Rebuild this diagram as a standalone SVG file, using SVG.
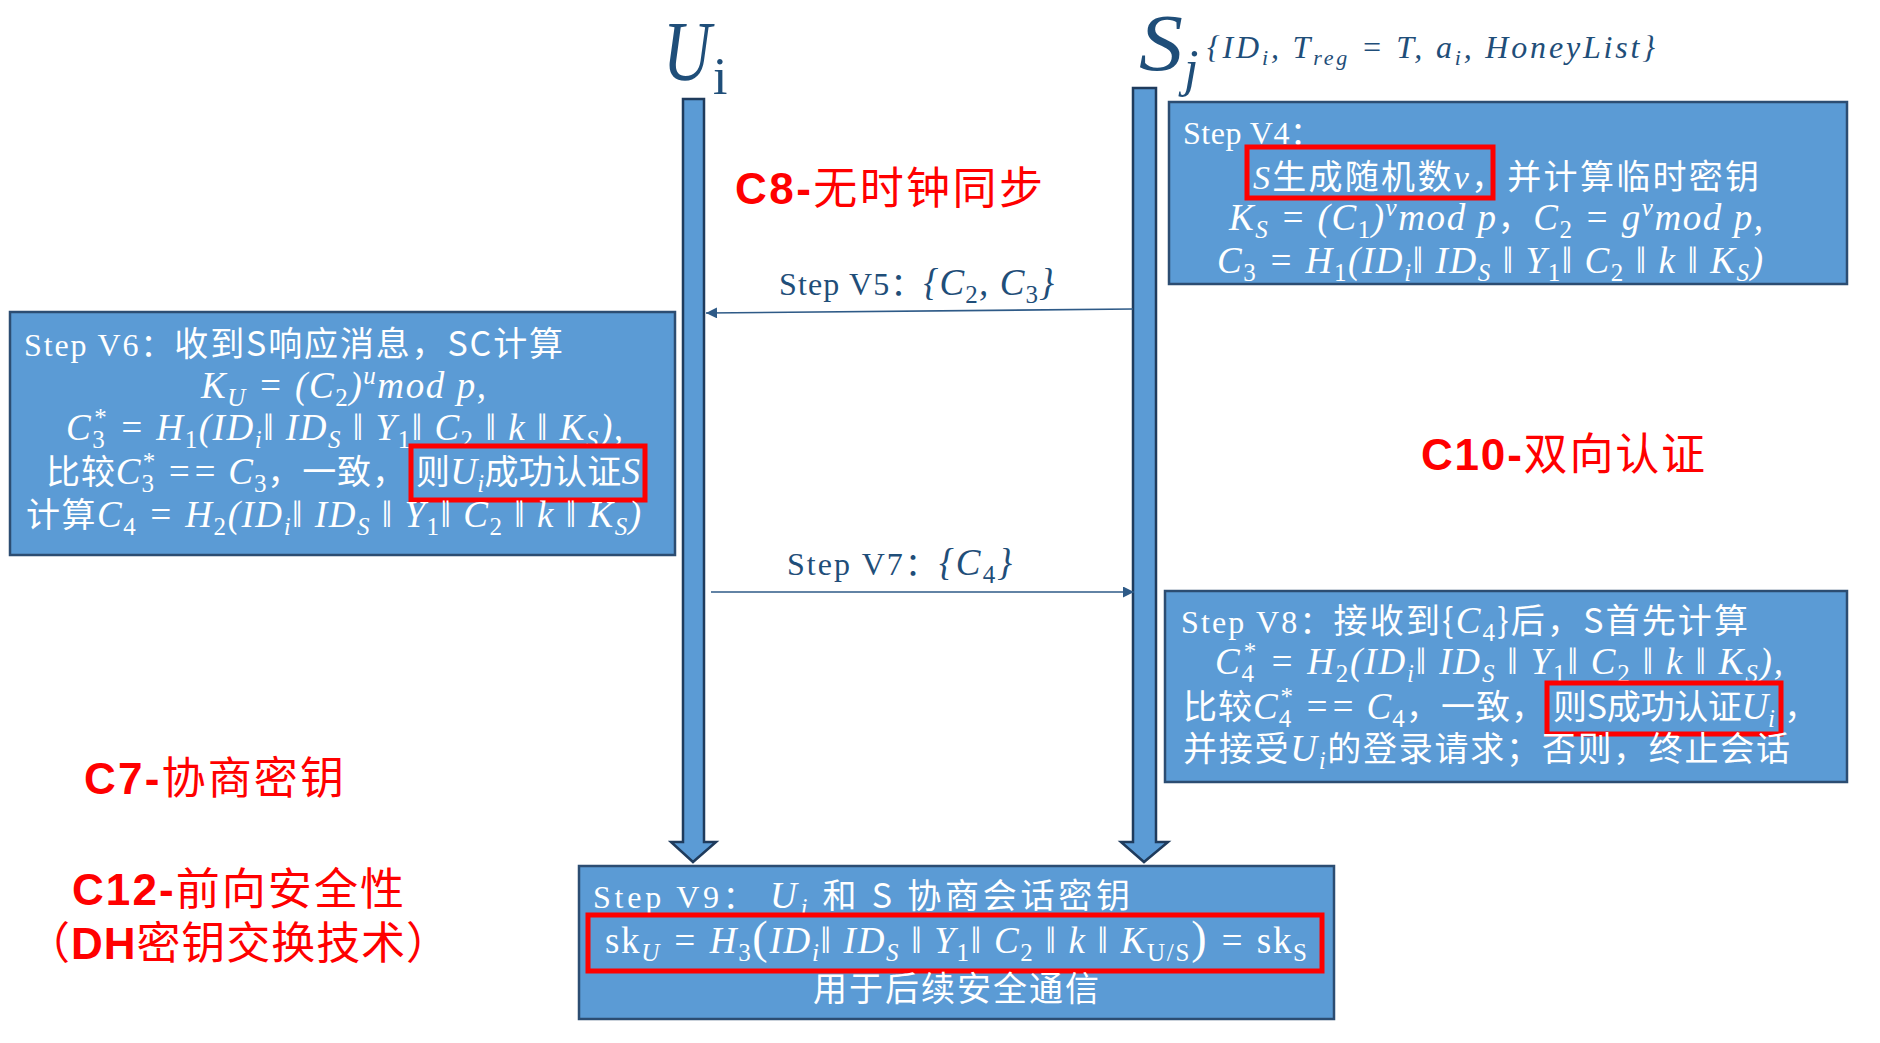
<svg xmlns="http://www.w3.org/2000/svg" width="1880" height="1043" viewBox="0 0 1880 1043">
<style>
.box{fill:#5B9BD5;stroke:#2C4D72;stroke-width:2.5}
.life{fill:#5B9BD5;stroke:#1F3B5C;stroke-width:2.5}
.hl{fill:none;stroke:#FF0000;stroke-width:5}
.msg{stroke:#2E5A87;stroke-width:1.6;fill:none}
.w{fill:#FFFFFF}
.cj{font-family:"Noto Sans CJK SC","Noto Sans",sans-serif;font-size:34px}
.mono{font-family:"Liberation Serif","Noto Sans CJK SC",serif;font-size:32px}
.mt{font-family:"Liberation Serif","DejaVu Serif","Noto Sans CJK SC",serif;font-style:italic;font-size:37px}
.i{font-family:"Liberation Serif","DejaVu Serif",serif;font-style:italic}
.n{font-style:normal}
.sb{font-size:25px;baseline-shift:-8px}
.sp{font-size:25px;baseline-shift:14px}
.red{fill:#FF0000;font-family:"Noto Sans CJK SC",sans-serif;font-size:44px}
.rb{font-family:"Liberation Sans",sans-serif;font-weight:bold}
.lbl{fill:#1F4E79;font-size:30px}
.hd{fill:#1F4E79;font-family:"Liberation Serif","DejaVu Serif",serif}
</style>
<defs>
<marker id="ah" viewBox="0 0 10 10" refX="10" refY="5" markerWidth="14" markerHeight="11" markerUnits="userSpaceOnUse" orient="auto"><path d="M0,0 L10,5 L0,10 z" fill="#2E5A87"/></marker>
</defs>

<g id="header-U">
<text class="hd" x="663" y="80" font-size="84" font-style="italic" textLength="48" lengthAdjust="spacingAndGlyphs">U</text>
<text class="hd" x="713" y="94" font-size="52">i</text>
</g>
<g id="header-S">
<text class="hd" x="1139" y="70" font-size="80" font-style="italic" textLength="44" lengthAdjust="spacingAndGlyphs">S</text>
<text class="hd" x="1184" y="86" font-size="52" font-style="italic">j</text>
<text class="hd" x="1207" y="58" font-size="32" font-style="italic" textLength="448">{ID<tspan font-size="22" baseline-shift="-7">i</tspan>, T<tspan font-size="22" baseline-shift="-7">reg</tspan> = T, a<tspan font-size="22" baseline-shift="-7">i</tspan>, HoneyList}</text>
</g>

<g id="lifeline-U">
<polygon class="life" points="683,99 704,99 704,842 716,842 693,862 671,842 683,842"/>
</g>
<g id="lifeline-S">
<polygon class="life" points="1133,88 1156,88 1156,842 1168,842 1144,862 1121,842 1133,842"/>
</g>

<g id="connectors">
<line class="msg" x1="1133" y1="309" x2="706" y2="313" marker-end="url(#ah)"/>
<line class="msg" x1="711" y1="592" x2="1134" y2="592" marker-end="url(#ah)"/>
<text class="cj lbl" x="779" y="295" textLength="275"><tspan class="mono">Step V5：</tspan><tspan class="mt" font-size="32">{C<tspan class="sb n" font-size="22">2</tspan>, C<tspan class="sb n" font-size="22">3</tspan>}</tspan></text>
<text class="cj lbl" x="787" y="575" textLength="225"><tspan class="mono">Step V7：</tspan><tspan class="mt" font-size="32">{C<tspan class="sb n" font-size="22">4</tspan>}</tspan></text>
</g>

<g id="step-v4">
<rect class="box" x="1169" y="102" width="678" height="182"/>
<text class="cj w" x="1183" y="144" textLength="139"><tspan class="mono">Step V4：</tspan></text>
<text class="cj w" x="1253" y="189" font-size="36" textLength="506"><tspan class="i">S</tspan>生成随机数<tspan class="i">v</tspan>，并计算临时密钥</text>
<rect class="hl" x="1247" y="147" width="246" height="51"/>
<text class="mt w" x="1229" y="230" textLength="534">K<tspan class="sb">S</tspan> = (C<tspan class="sb n">1</tspan>)<tspan class="sp">v</tspan>mod p<tspan class="cj n">，</tspan>C<tspan class="sb n">2</tspan> = g<tspan class="sp">v</tspan>mod p,</text>
<text class="mt w" x="1217" y="273" textLength="546">C<tspan class="sb n">3</tspan> = H<tspan class="sb n">1</tspan>(ID<tspan class="sb">i</tspan>‖ ID<tspan class="sb">S</tspan> ‖ Y<tspan class="sb n">1</tspan>‖ C<tspan class="sb n">2</tspan> ‖ k ‖ K<tspan class="sb">S</tspan>)</text>
</g>

<g id="step-v6">
<rect class="box" x="10" y="312" width="665" height="243"/>
<text class="cj w" x="24" y="356" textLength="539"><tspan class="mono">Step V6：</tspan>收到S响应消息，SC计算</text>
<text class="mt w" x="201" y="398" textLength="285">K<tspan class="sb">U</tspan> = (C<tspan class="sb n">2</tspan>)<tspan class="sp">u</tspan>mod p,</text>
<text class="mt w" x="66" y="440" textLength="557">C<tspan class="sb n">3</tspan><tspan class="sp n" dx="-12">*</tspan> = H<tspan class="sb n">1</tspan>(ID<tspan class="sb">i</tspan>‖ ID<tspan class="sb">S</tspan> ‖ Y<tspan class="sb n">1</tspan>‖ C<tspan class="sb n">2</tspan> ‖ k ‖ K<tspan class="sb">S</tspan>),</text>
<text class="cj w" x="46" y="484" textLength="360">比较<tspan class="mt">C<tspan class="sb n">3</tspan><tspan class="sp n" dx="-12">*</tspan> == C<tspan class="sb n">3</tspan></tspan>，一致，</text>
<text class="cj w" x="416" y="484" textLength="224">则<tspan class="mt">U<tspan class="sb">i</tspan></tspan>成功认证<tspan class="mt">S</tspan></text>
<rect class="hl" x="411" y="446" width="234" height="54"/>
<text class="cj w" x="26" y="527" textLength="615">计算<tspan class="mt">C<tspan class="sb n">4</tspan> = H<tspan class="sb n">2</tspan>(ID<tspan class="sb">i</tspan>‖ ID<tspan class="sb">S</tspan> ‖ Y<tspan class="sb n">1</tspan>‖ C<tspan class="sb n">2</tspan> ‖ k ‖ K<tspan class="sb">S</tspan>)</tspan></text>
</g>

<g id="step-v8">
<rect class="box" x="1165" y="591" width="682" height="191"/>
<text class="cj w" x="1181" y="633" textLength="567"><tspan class="mono">Step V8：</tspan>接收到{<tspan class="mt">C<tspan class="sb n">4</tspan></tspan>}后，S首先计算</text>
<text class="mt w" x="1215" y="674" textLength="568">C<tspan class="sb n">4</tspan><tspan class="sp n" dx="-12">*</tspan> = H<tspan class="sb n">2</tspan>(ID<tspan class="sb">i</tspan>‖ ID<tspan class="sb">S</tspan> ‖ Y<tspan class="sb n">1</tspan>‖ C<tspan class="sb n">2</tspan> ‖ k ‖ K<tspan class="sb">S</tspan>),</text>
<text class="cj w" x="1183" y="719" textLength="362">比较<tspan class="mt">C<tspan class="sb n">4</tspan><tspan class="sp n" dx="-12">*</tspan> == C<tspan class="sb n">4</tspan></tspan>，一致，</text>
<text class="cj w" x="1553" y="719" textLength="222">则S成功认证<tspan class="mt">U<tspan class="sb">i</tspan></tspan></text>
<text class="cj w" x="1784" y="719">，</text>
<rect class="hl" x="1547" y="683" width="234" height="51"/>
<text class="cj w" x="1183" y="761" textLength="607">并接受<tspan class="mt">U<tspan class="sb">i</tspan></tspan>的登录请求；否则，终止会话</text>
</g>

<g id="step-v9">
<rect class="box" x="579" y="866" width="755" height="153"/>
<text class="cj w" x="593" y="908" textLength="537"><tspan class="mono">Step V9：</tspan> <tspan class="mt">U<tspan class="sb">i</tspan></tspan> 和 S 协商会话密钥</text>
<rect class="hl" x="588" y="915" width="734" height="56"/>
<text class="mt w" x="605" y="953" textLength="702"><tspan class="n">sk</tspan><tspan class="sb">U</tspan> = H<tspan class="sb n">3</tspan><tspan class="n" font-size="46">(</tspan>ID<tspan class="sb">i</tspan>‖ ID<tspan class="sb">S</tspan> ‖ Y<tspan class="sb n">1</tspan>‖ C<tspan class="sb n">2</tspan> ‖ k ‖ K<tspan class="sb n">U/S</tspan><tspan class="n" font-size="46">)</tspan> = <tspan class="n">sk</tspan><tspan class="sb n">S</tspan></text>
<text class="cj w" x="813" y="1001" font-size="36" textLength="286">用于后续安全通信</text>
</g>

<g id="label-c8"><text class="red" x="735" y="204" textLength="308"><tspan class="rb">C8-</tspan>无时钟同步</text></g>
<g id="label-c10"><text class="red" x="1421" y="470" textLength="284"><tspan class="rb">C10-</tspan>双向认证</text></g>
<g id="label-c7"><text class="red" x="84" y="794" textLength="260"><tspan class="rb">C7-</tspan>协商密钥</text></g>
<g id="label-c12">
<text class="red" x="72" y="905" textLength="332"><tspan class="rb">C12-</tspan>前向安全性</text>
<text class="red" x="26" y="959" textLength="424">（<tspan class="rb">DH</tspan>密钥交换技术）</text>
</g>
</svg>
